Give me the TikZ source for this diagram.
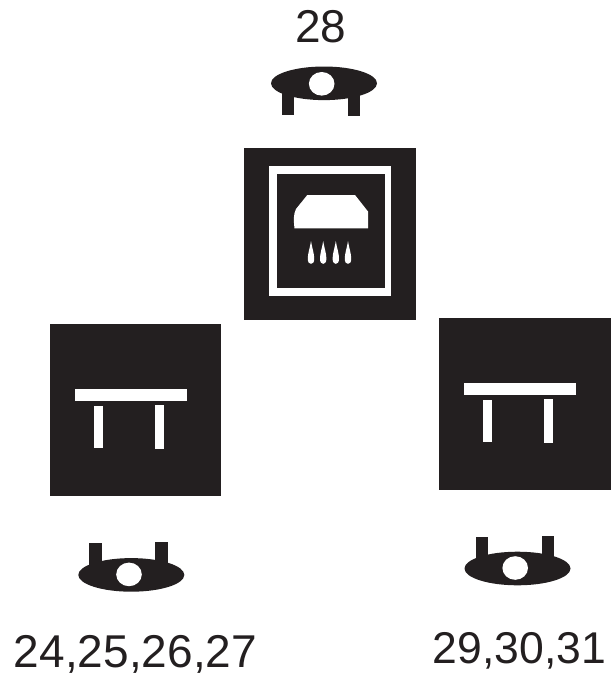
\documentclass[tikz,border=0pt]{standalone}
\usepackage{fontspec}
\setmainfont{Liberation Sans}
\usepackage{xcolor}
\usepackage{tikz}
\definecolor{inkblack}{HTML}{231F20}

\begin{document}
\begin{tikzpicture}[x=1pt, y=-1pt,
        tile/.style={rectangle, fill=inkblack, inner sep=0pt, minimum size=171.7pt},
        label/.style={anchor=base, text=inkblack, inner sep=0pt, font=\fontsize{46}{46}\selectfont},
        cutout/.style={fill=white, draw=none}]

        \useasboundingbox (0,0) rectangle (612,675);

        % Labels
        \node[label] (lbltop) at (321,42) {28};
        \node[label] (lblleft) at (135.5,667) {24,25,26,27};
        \node[label, font=\fontsize{44.5}{44.5}\selectfont] (lblright) at (519.5,663) {29,30,31};

        % Eyes
        \foreach \cx/\cy/\dir in {324/83.3/1, 131.3/574.9/-1, 517.5/568.5/-1} {
          \begin{scope}[shift={(\cx,\cy)}, yscale=\dir]
            \fill[inkblack] (0,0) ellipse [x radius=53, y radius=16.8];
            \fill[inkblack] (-42,5) rectangle (-29.7,32);
            \fill[inkblack] (24,5) rectangle (36.3,33);
            \fill[cutout] (-2.3,0.5) ellipse [x radius=12.8, y radius=11.8];
          \end{scope}
        }

        % Tiles
        \node[tile] (tiletop) at (330.2,234.2) {};
        \node[tile] (tileleft) at (135.5,410.2) {};
        \node[tile] (tileright) at (524.7,404.2) {};

        % Frame in top tile
        \fill[white] (269.3,166) rectangle (391.3,296);
        \fill[inkblack] (276.7,174) rectangle (385,288);

        % Lamp
        \fill[cutout] (307.3,195) -- (355,195) -- (368,211.5) -- (368,228.3) -- (294.5,228.3)
          .. controls (293.5,220) and (293.5,214) .. (296,209) -- cycle;

        % Drops
        \foreach \dx in {311,323.2,335.8,348} {
          \fill[cutout] (\dx,241) .. controls (\dx+1.5,250) and (\dx+3.2,253) .. (\dx+3.2,259)
            .. controls (\dx+3.2,265.5) and (\dx-3.2,265.5) .. (\dx-3.2,259)
            .. controls (\dx-3.2,253) and (\dx-1.5,250) .. (\dx,241) -- cycle;
        }

        % Benches
        \foreach \ox/\oy in {0/0, 389/-6} {
          \begin{scope}[shift={(\ox,\oy)}]
            \fill[cutout] (75.3,389.3) rectangle (187.3,401.3);
            \fill[cutout] (94,405.5) rectangle (102.7,448.3);
            \fill[cutout] (155,405) rectangle (164,449.3);
          \end{scope}
        }
      \end{tikzpicture}
\end{document}
